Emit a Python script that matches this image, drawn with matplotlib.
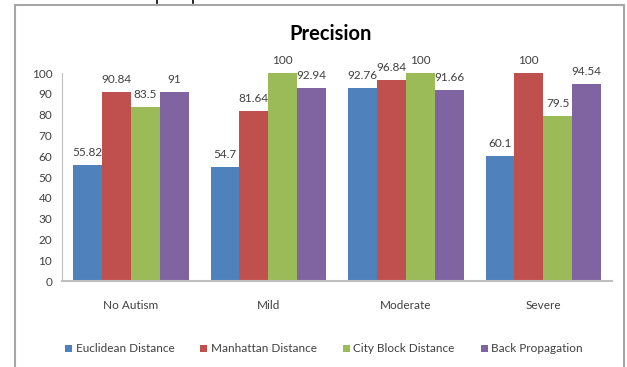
import numpy as np
import matplotlib
matplotlib.use("Agg")
import matplotlib.pyplot as plt
from matplotlib.patches import Rectangle, Patch
from matplotlib.lines import Line2D

plt.rcParams['font.family'] = ['Lato', 'DejaVu Sans']

categories = ["No Autism", "Mild", "Moderate", "Severe"]
series_names = ["Euclidean Distance", "Manhattan Distance",
                "City Block Distance", "Back Propagation"]
euclidean = [55.82, 54.7, 92.76, 60.1]
manhattan = [90.84, 81.64, 96.84, 100]
city_block = [83.5, 100, 100, 79.5]
back_prop = [91, 92.94, 91.66, 94.54]
yticks = [0, 10, 20, 30, 40, 50, 60, 70, 80, 90, 100]

color_list = ["#4F81BD", "#C0504D", "#9BBB59", "#8064A2"]
text_color = "#404040"

fig = plt.figure(figsize=(6.27, 3.67), dpi=100)
ax = fig.add_axes([62 / 627, 1 - 281 / 367, 550 / 627, 208 / 367])

x = np.arange(len(categories))
width = 0.21
all_values = [euclidean, manhattan, city_block, back_prop]
for it, values in enumerate(all_values):
    pos = x + (it - 1.5) * width
    bars = ax.bar(pos, values, width, color=color_list[it], label=series_names[it])
    for b, v in zip(bars, values):
        ax.annotate("{:g}".format(v), (b.get_x() + b.get_width() / 2, v),
                    xytext=(0, 5), textcoords="offset points",
                    ha="center", va="bottom", fontsize=8.5, color=text_color)

ax.set_xlim(-0.5, 3.5)
ax.set_ylim(0, 100)
ax.set_yticks(yticks)
ax.set_xticks(x)
ax.set_xticklabels(categories)
ax.tick_params(axis="both", length=0, labelsize=8.5, colors=text_color)
ax.tick_params(axis="x", pad=14)
ax.tick_params(axis="y", pad=7)
for s in ["top", "right"]:
    ax.spines[s].set_visible(False)
ax.spines["left"].set_color("#BFBFBF")
ax.spines["bottom"].set_color("#BFBFBF")
ax.spines["bottom"].set_linewidth(1.5)

fig.text(331 / 627, 1 - 34 / 367, "Precision", ha="center", va="center",
         fontsize=14.5, fontweight="bold", color="black")

handles = [Patch(facecolor=c) for c in color_list]
fig.legend(handles, series_names, loc="center", bbox_to_anchor=(324 / 627, 1 - 349 / 367),
           ncol=4, frameon=False, fontsize=8.5, handlelength=0.6, handleheight=0.6,
           handletextpad=0.3, columnspacing=2.2, labelcolor=text_color)

# outer frame of the pasted chart
fig.patches.append(Rectangle((15 / 627, -0.05), 609 / 627, 1.05 - 5 / 367,
                             transform=fig.transFigure, fill=False,
                             edgecolor="#A6A6A6", linewidth=1.5))
# descender marks of the cut-off line above the frame
for px in [157, 193]:
    fig.lines.append(Line2D([px / 627, px / 627], [1, 1 - 3 / 367],
                            transform=fig.transFigure, color="black", linewidth=1.2))

fig.savefig("out.png", dpi=100)
